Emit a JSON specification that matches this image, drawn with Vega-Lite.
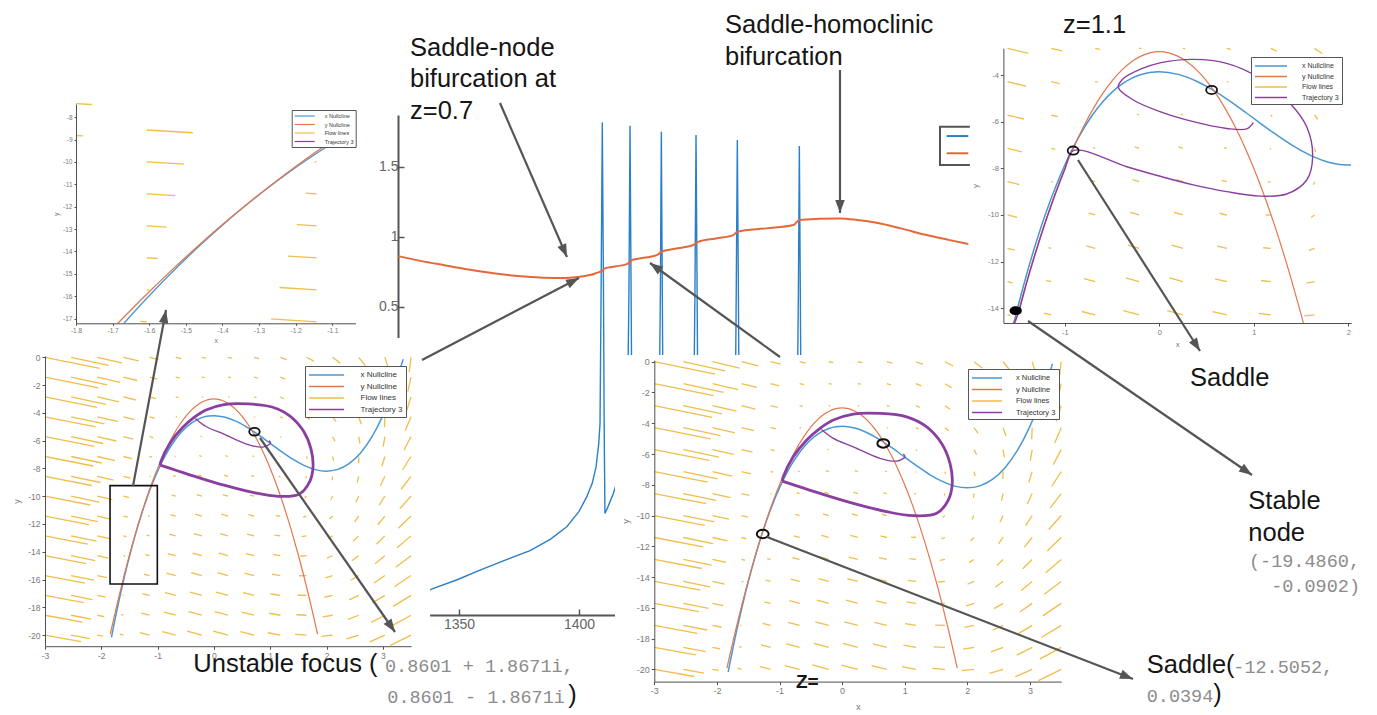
{
"$schema": "https://vega.github.io/schema/vega-lite/v6.json",
"width": 1377, "height": 715,
"autosize": {"type": "none"},
"padding": 0,
"background": "white",
"config": {
  "view": {"stroke": null},
  "axis": {"grid": false, "labelFont": "Liberation Sans", "titleFont": "Liberation Sans", "titleFontWeight": "normal", "labelColor": "#7a7a7a", "titleColor": "#7a7a7a", "domainColor": "#505050", "tickColor": "#505050", "labelOverlap": false, "labelFlush": false, "labelExpr": "'' + datum.value", "tickSize": 3, "labelPadding": 2},
  "legend": {"labelFont": "Liberation Sans", "labelColor": "#333333", "strokeColor": "#555555", "fillColor": "white", "orient": "none", "direction": "vertical", "symbolStrokeWidth": 1.5}
},
"datasets": {
"flow": [
{"x":-3,"y":-20,"x2":-2.362,"y2":-20.468},{"x":-3,"y":-18.571,"x2":-2.338,"y2":-19.063},{"x":-3,"y":-17.143,"x2":-2.314,"y2":-17.659},{"x":-3,"y":-15.714,"x2":-2.29,"y2":-16.254},{"x":-3,"y":-14.286,"x2":-2.267,"y2":-14.85},{"x":-3,"y":-12.857,"x2":-2.243,"y2":-13.445},{"x":-3,"y":-11.429,"x2":-2.219,"y2":-12.04},{"x":-3,"y":-10,"x2":-2.195,"y2":-10.635},{"x":-3,"y":-8.571,"x2":-2.171,"y2":-9.23},{"x":-3,"y":-7.143,"x2":-2.147,"y2":-7.826},{"x":-3,"y":-5.714,"x2":-2.123,"y2":-6.421},{"x":-3,"y":-4.286,"x2":-2.1,"y2":-5.016},{"x":-3,"y":-2.857,"x2":-2.076,"y2":-3.611},{"x":-3,"y":-1.429,"x2":-2.052,"y2":-2.207},{"x":-3,"y":0,"x2":-2.028,"y2":-0.802},
{"x":-2.536,"y":-20,"x2":-2.205,"y2":-20.253},{"x":-2.536,"y":-18.571,"x2":-2.181,"y2":-18.848},{"x":-2.536,"y":-17.143,"x2":-2.157,"y2":-17.444},{"x":-2.536,"y":-15.714,"x2":-2.133,"y2":-16.039},{"x":-2.536,"y":-14.286,"x2":-2.11,"y2":-14.635},{"x":-2.536,"y":-12.857,"x2":-2.086,"y2":-13.23},{"x":-2.536,"y":-11.429,"x2":-2.062,"y2":-11.825},{"x":-2.536,"y":-10,"x2":-2.038,"y2":-10.42},{"x":-2.536,"y":-8.571,"x2":-2.014,"y2":-9.015},{"x":-2.536,"y":-7.143,"x2":-1.99,"y2":-7.611},{"x":-2.536,"y":-5.714,"x2":-1.966,"y2":-6.206},{"x":-2.536,"y":-4.286,"x2":-1.943,"y2":-4.801},{"x":-2.536,"y":-2.857,"x2":-1.919,"y2":-3.396},{"x":-2.536,"y":-1.429,"x2":-1.895,"y2":-1.992},{"x":-2.536,"y":0,"x2":-1.871,"y2":-0.587},
{"x":-2.071,"y":-20,"x2":-1.972,"y2":-20.074},{"x":-2.071,"y":-18.571,"x2":-1.948,"y2":-18.669},{"x":-2.071,"y":-17.143,"x2":-1.924,"y2":-17.265},{"x":-2.071,"y":-15.714,"x2":-1.9,"y2":-15.86},{"x":-2.071,"y":-14.286,"x2":-1.877,"y2":-14.456},{"x":-2.071,"y":-12.857,"x2":-1.853,"y2":-13.051},{"x":-2.071,"y":-11.429,"x2":-1.829,"y2":-11.646},{"x":-2.071,"y":-10,"x2":-1.805,"y2":-10.241},{"x":-2.071,"y":-8.571,"x2":-1.781,"y2":-8.836},{"x":-2.071,"y":-7.143,"x2":-1.757,"y2":-7.432},{"x":-2.071,"y":-5.714,"x2":-1.733,"y2":-6.027},{"x":-2.071,"y":-4.286,"x2":-1.71,"y2":-4.622},{"x":-2.071,"y":-2.857,"x2":-1.686,"y2":-3.217},{"x":-2.071,"y":-1.429,"x2":-1.662,"y2":-1.813},{"x":-2.071,"y":0,"x2":-1.638,"y2":-0.408},
{"x":-1.607,"y":-20,"x2":-1.672,"y2":-19.932},{"x":-1.607,"y":-18.571,"x2":-1.648,"y2":-18.527},{"x":-1.607,"y":-17.143,"x2":-1.624,"y2":-17.123},{"x":-1.607,"y":-15.714,"x2":-1.6,"y2":-15.718},{"x":-1.607,"y":-14.286,"x2":-1.577,"y2":-14.314},{"x":-1.607,"y":-12.857,"x2":-1.553,"y2":-12.909},{"x":-1.607,"y":-11.429,"x2":-1.529,"y2":-11.504},{"x":-1.607,"y":-10,"x2":-1.505,"y2":-10.099},{"x":-1.607,"y":-8.571,"x2":-1.481,"y2":-8.694},{"x":-1.607,"y":-7.143,"x2":-1.457,"y2":-7.29},{"x":-1.607,"y":-5.714,"x2":-1.433,"y2":-5.885},{"x":-1.607,"y":-4.286,"x2":-1.41,"y2":-4.48},{"x":-1.607,"y":-2.857,"x2":-1.386,"y2":-3.075},{"x":-1.607,"y":-1.429,"x2":-1.362,"y2":-1.671},{"x":-1.607,"y":0,"x2":-1.338,"y2":-0.266},
{"x":-1.143,"y":-20,"x2":-1.316,"y2":-19.825},{"x":-1.143,"y":-18.571,"x2":-1.292,"y2":-18.42},{"x":-1.143,"y":-17.143,"x2":-1.268,"y2":-17.016},{"x":-1.143,"y":-15.714,"x2":-1.244,"y2":-15.611},{"x":-1.143,"y":-14.286,"x2":-1.221,"y2":-14.207},{"x":-1.143,"y":-12.857,"x2":-1.197,"y2":-12.802},{"x":-1.143,"y":-11.429,"x2":-1.173,"y2":-11.397},{"x":-1.143,"y":-10,"x2":-1.149,"y2":-9.992},{"x":-1.143,"y":-8.571,"x2":-1.125,"y2":-8.587},{"x":-1.143,"y":-7.143,"x2":-1.101,"y2":-7.183},{"x":-1.143,"y":-5.714,"x2":-1.077,"y2":-5.778},{"x":-1.143,"y":-4.286,"x2":-1.054,"y2":-4.373},{"x":-1.143,"y":-2.857,"x2":-1.03,"y2":-2.968},{"x":-1.143,"y":-1.429,"x2":-1.006,"y2":-1.564},{"x":-1.143,"y":0,"x2":-0.982,"y2":-0.159},
{"x":-0.679,"y":-20,"x2":-0.915,"y2":-19.755},{"x":-0.679,"y":-18.571,"x2":-0.891,"y2":-18.35},{"x":-0.679,"y":-17.143,"x2":-0.867,"y2":-16.946},{"x":-0.679,"y":-15.714,"x2":-0.843,"y2":-15.541},{"x":-0.679,"y":-14.286,"x2":-0.82,"y2":-14.137},{"x":-0.679,"y":-12.857,"x2":-0.796,"y2":-12.732},{"x":-0.679,"y":-11.429,"x2":-0.772,"y2":-11.327},{"x":-0.679,"y":-10,"x2":-0.748,"y2":-9.922},{"x":-0.679,"y":-8.571,"x2":-0.724,"y2":-8.517},{"x":-0.679,"y":-7.143,"x2":-0.7,"y2":-7.113},{"x":-0.679,"y":-5.714,"x2":-0.676,"y2":-5.708},{"x":-0.679,"y":-4.286,"x2":-0.653,"y2":-4.303},{"x":-0.679,"y":-2.857,"x2":-0.629,"y2":-2.898},{"x":-0.679,"y":-1.429,"x2":-0.605,"y2":-1.494},{"x":-0.679,"y":0,"x2":-0.581,"y2":-0.089},
{"x":-0.214,"y":-20,"x2":-0.475,"y2":-19.72},{"x":-0.214,"y":-18.571,"x2":-0.451,"y2":-18.315},{"x":-0.214,"y":-17.143,"x2":-0.427,"y2":-16.911},{"x":-0.214,"y":-15.714,"x2":-0.403,"y2":-15.506},{"x":-0.214,"y":-14.286,"x2":-0.38,"y2":-14.102},{"x":-0.214,"y":-12.857,"x2":-0.356,"y2":-12.697},{"x":-0.214,"y":-11.429,"x2":-0.332,"y2":-11.292},{"x":-0.214,"y":-10,"x2":-0.308,"y2":-9.887},{"x":-0.214,"y":-8.571,"x2":-0.284,"y2":-8.482},{"x":-0.214,"y":-7.143,"x2":-0.26,"y2":-7.078},{"x":-0.214,"y":-5.714,"x2":-0.236,"y2":-5.673},{"x":-0.214,"y":-4.286,"x2":-0.213,"y2":-4.268},{"x":-0.214,"y":-2.857,"x2":-0.189,"y2":-2.863},{"x":-0.214,"y":-1.429,"x2":-0.165,"y2":-1.459},{"x":-0.214,"y":0,"x2":-0.141,"y2":-0.054},
{"x":0.25,"y":-20,"x2":-0.011,"y2":-19.721},{"x":0.25,"y":-18.571,"x2":0.013,"y2":-18.316},{"x":0.25,"y":-17.143,"x2":0.037,"y2":-16.912},{"x":0.25,"y":-15.714,"x2":0.061,"y2":-15.507},{"x":0.25,"y":-14.286,"x2":0.084,"y2":-14.103},{"x":0.25,"y":-12.857,"x2":0.108,"y2":-12.698},{"x":0.25,"y":-11.429,"x2":0.132,"y2":-11.293},{"x":0.25,"y":-10,"x2":0.156,"y2":-9.888},{"x":0.25,"y":-8.571,"x2":0.18,"y2":-8.483},{"x":0.25,"y":-7.143,"x2":0.204,"y2":-7.079},{"x":0.25,"y":-5.714,"x2":0.228,"y2":-5.674},{"x":0.25,"y":-4.286,"x2":0.251,"y2":-4.269},{"x":0.25,"y":-2.857,"x2":0.275,"y2":-2.864},{"x":0.25,"y":-1.429,"x2":0.299,"y2":-1.46},{"x":0.25,"y":0,"x2":0.323,"y2":-0.055},
{"x":0.714,"y":-20,"x2":0.47,"y2":-19.759},{"x":0.714,"y":-18.571,"x2":0.494,"y2":-18.354},{"x":0.714,"y":-17.143,"x2":0.518,"y2":-16.95},{"x":0.714,"y":-15.714,"x2":0.542,"y2":-15.545},{"x":0.714,"y":-14.286,"x2":0.565,"y2":-14.141},{"x":0.714,"y":-12.857,"x2":0.589,"y2":-12.736},{"x":0.714,"y":-11.429,"x2":0.613,"y2":-11.331},{"x":0.714,"y":-10,"x2":0.637,"y2":-9.926},{"x":0.714,"y":-8.571,"x2":0.661,"y2":-8.521},{"x":0.714,"y":-7.143,"x2":0.685,"y2":-7.117},{"x":0.714,"y":-5.714,"x2":0.709,"y2":-5.712},{"x":0.714,"y":-4.286,"x2":0.732,"y2":-4.307},{"x":0.714,"y":-2.857,"x2":0.756,"y2":-2.902},{"x":0.714,"y":-1.429,"x2":0.78,"y2":-1.498},{"x":0.714,"y":0,"x2":0.804,"y2":-0.093},
{"x":1.179,"y":-20,"x2":0.957,"y2":-19.832},{"x":1.179,"y":-18.571,"x2":0.981,"y2":-18.427},{"x":1.179,"y":-17.143,"x2":1.005,"y2":-17.023},{"x":1.179,"y":-15.714,"x2":1.029,"y2":-15.618},{"x":1.179,"y":-14.286,"x2":1.052,"y2":-14.214},{"x":1.179,"y":-12.857,"x2":1.076,"y2":-12.809},{"x":1.179,"y":-11.429,"x2":1.1,"y2":-11.404},{"x":1.179,"y":-10,"x2":1.124,"y2":-9.999},{"x":1.179,"y":-8.571,"x2":1.148,"y2":-8.594},{"x":1.179,"y":-7.143,"x2":1.172,"y2":-7.19},{"x":1.179,"y":-5.714,"x2":1.196,"y2":-5.785},{"x":1.179,"y":-4.286,"x2":1.219,"y2":-4.38},{"x":1.179,"y":-2.857,"x2":1.243,"y2":-2.975},{"x":1.179,"y":-1.429,"x2":1.267,"y2":-1.571},{"x":1.179,"y":0,"x2":1.291,"y2":-0.166},
{"x":1.643,"y":-20,"x2":1.44,"y2":-19.942},{"x":1.643,"y":-18.571,"x2":1.464,"y2":-18.537},{"x":1.643,"y":-17.143,"x2":1.488,"y2":-17.133},{"x":1.643,"y":-15.714,"x2":1.512,"y2":-15.728},{"x":1.643,"y":-14.286,"x2":1.535,"y2":-14.324},{"x":1.643,"y":-12.857,"x2":1.559,"y2":-12.919},{"x":1.643,"y":-11.429,"x2":1.583,"y2":-11.514},{"x":1.643,"y":-10,"x2":1.607,"y2":-10.109},{"x":1.643,"y":-8.571,"x2":1.631,"y2":-8.704},{"x":1.643,"y":-7.143,"x2":1.655,"y2":-7.3},{"x":1.643,"y":-5.714,"x2":1.679,"y2":-5.895},{"x":1.643,"y":-4.286,"x2":1.702,"y2":-4.49},{"x":1.643,"y":-2.857,"x2":1.726,"y2":-3.085},{"x":1.643,"y":-1.429,"x2":1.75,"y2":-1.681},{"x":1.643,"y":0,"x2":1.774,"y2":-0.276},
{"x":2.107,"y":-20,"x2":1.909,"y2":-20.087},{"x":2.107,"y":-18.571,"x2":1.933,"y2":-18.682},{"x":2.107,"y":-17.143,"x2":1.957,"y2":-17.278},{"x":2.107,"y":-15.714,"x2":1.981,"y2":-15.873},{"x":2.107,"y":-14.286,"x2":2.004,"y2":-14.469},{"x":2.107,"y":-12.857,"x2":2.028,"y2":-13.064},{"x":2.107,"y":-11.429,"x2":2.052,"y2":-11.659},{"x":2.107,"y":-10,"x2":2.076,"y2":-10.254},{"x":2.107,"y":-8.571,"x2":2.1,"y2":-8.849},{"x":2.107,"y":-7.143,"x2":2.124,"y2":-7.445},{"x":2.107,"y":-5.714,"x2":2.148,"y2":-6.04},{"x":2.107,"y":-4.286,"x2":2.171,"y2":-4.635},{"x":2.107,"y":-2.857,"x2":2.195,"y2":-3.23},{"x":2.107,"y":-1.429,"x2":2.219,"y2":-1.826},{"x":2.107,"y":0,"x2":2.243,"y2":-0.421},
{"x":2.571,"y":-20,"x2":2.355,"y2":-20.268},{"x":2.571,"y":-18.571,"x2":2.379,"y2":-18.863},{"x":2.571,"y":-17.143,"x2":2.403,"y2":-17.459},{"x":2.571,"y":-15.714,"x2":2.427,"y2":-16.054},{"x":2.571,"y":-14.286,"x2":2.45,"y2":-14.65},{"x":2.571,"y":-12.857,"x2":2.474,"y2":-13.245},{"x":2.571,"y":-11.429,"x2":2.498,"y2":-11.84},{"x":2.571,"y":-10,"x2":2.522,"y2":-10.435},{"x":2.571,"y":-8.571,"x2":2.546,"y2":-9.03},{"x":2.571,"y":-7.143,"x2":2.57,"y2":-7.626},{"x":2.571,"y":-5.714,"x2":2.594,"y2":-6.221},{"x":2.571,"y":-4.286,"x2":2.617,"y2":-4.816},{"x":2.571,"y":-2.857,"x2":2.641,"y2":-3.411},{"x":2.571,"y":-1.429,"x2":2.665,"y2":-2.007},{"x":2.571,"y":0,"x2":2.689,"y2":-0.602},
{"x":3.036,"y":-20,"x2":2.767,"y2":-20.486},{"x":3.036,"y":-18.571,"x2":2.791,"y2":-19.081},{"x":3.036,"y":-17.143,"x2":2.815,"y2":-17.677},{"x":3.036,"y":-15.714,"x2":2.839,"y2":-16.272},{"x":3.036,"y":-14.286,"x2":2.862,"y2":-14.868},{"x":3.036,"y":-12.857,"x2":2.886,"y2":-13.463},{"x":3.036,"y":-11.429,"x2":2.91,"y2":-12.058},{"x":3.036,"y":-10,"x2":2.934,"y2":-10.653},{"x":3.036,"y":-8.571,"x2":2.958,"y2":-9.248},{"x":3.036,"y":-7.143,"x2":2.982,"y2":-7.844},{"x":3.036,"y":-5.714,"x2":3.006,"y2":-6.439},{"x":3.036,"y":-4.286,"x2":3.029,"y2":-5.034},{"x":3.036,"y":-2.857,"x2":3.053,"y2":-3.629},{"x":3.036,"y":-1.429,"x2":3.077,"y2":-2.225},{"x":3.036,"y":0,"x2":3.101,"y2":-0.82},
{"x":3.5,"y":-20,"x2":3.134,"y2":-20.739},{"x":3.5,"y":-18.571,"x2":3.158,"y2":-19.334},{"x":3.5,"y":-17.143,"x2":3.182,"y2":-17.93},{"x":3.5,"y":-15.714,"x2":3.206,"y2":-16.525},{"x":3.5,"y":-14.286,"x2":3.229,"y2":-15.121},{"x":3.5,"y":-12.857,"x2":3.253,"y2":-13.716},{"x":3.5,"y":-11.429,"x2":3.277,"y2":-12.311},{"x":3.5,"y":-10,"x2":3.301,"y2":-10.906},{"x":3.5,"y":-8.571,"x2":3.325,"y2":-9.501},{"x":3.5,"y":-7.143,"x2":3.349,"y2":-8.097},{"x":3.5,"y":-5.714,"x2":3.373,"y2":-6.692},{"x":3.5,"y":-4.286,"x2":3.396,"y2":-5.287},{"x":3.5,"y":-2.857,"x2":3.42,"y2":-3.882},{"x":3.5,"y":-1.429,"x2":3.444,"y2":-2.478},{"x":3.5,"y":0,"x2":3.468,"y2":-1.073}
],
"nullx07": [
{"x":-1.82,"y":-20.17},{"x":-1.75,"y":-18.747},{"x":-1.7,"y":-17.78},{"x":-1.669,"y":-17.21},{"x":-1.65,"y":-16.86},{"x":-1.6,"y":-15.98},{"x":-1.55,"y":-15.13},{"x":-1.5,"y":-14.325},{"x":-1.45,"y":-13.556},{"x":-1.4,"y":-12.824},{"x":-1.35,"y":-12.128},{"x":-1.3,"y":-11.467},{"x":-1.25,"y":-10.841},{"x":-1.2,"y":-10.248},{"x":-1.15,"y":-9.688},{"x":-1.1,"y":-9.161},{"x":-1.05,"y":-8.665},{"x":-1.037,"y":-8.541},{"x":-1.0,"y":-8.2},{"x":-0.9,"y":-7.359},{"x":-0.8,"y":-6.632},{"x":-0.7,"y":-6.013},{"x":-0.6,"y":-5.496},{"x":-0.5,"y":-5.075},{"x":-0.4,"y":-4.744},{"x":-0.3,"y":-4.497},{"x":-0.2,"y":-4.328},{"x":-0.1,"y":-4.231},{"x":0,"y":-4.2},{"x":0.2,"y":-4.312},{"x":0.4,"y":-4.616},{"x":0.6,"y":-5.064},{"x":0.8,"y":-5.608},{"x":1.0,"y":-6.2},{"x":1.2,"y":-6.792},{"x":1.4,"y":-7.336},{"x":1.6,"y":-7.784},{"x":1.8,"y":-8.088},{"x":2.0,"y":-8.2},{"x":2.2,"y":-8.072},{"x":2.4,"y":-7.656},{"x":2.6,"y":-6.904},{"x":2.8,"y":-5.768},{"x":3.0,"y":-4.2},{"x":3.1,"y":-3.239},{"x":3.2,"y":-2.152},{"x":3.3,"y":-0.933},{"x":3.36,"y":-0.136}
],
"nully07": [
{"x":-1.84,"y":-19.928},{"x":-1.8,"y":-19.2},{"x":-1.75,"y":-18.313},{"x":-1.7,"y":-17.45},{"x":-1.686,"y":-17.213},{"x":-1.65,"y":-16.613},{"x":-1.6,"y":-15.8},{"x":-1.55,"y":-15.013},{"x":-1.525,"y":-14.628},{"x":-1.5,"y":-14.25},{"x":-1.45,"y":-13.513},{"x":-1.4,"y":-12.8},{"x":-1.35,"y":-12.113},{"x":-1.3,"y":-11.45},{"x":-1.25,"y":-10.813},{"x":-1.2,"y":-10.2},{"x":-1.15,"y":-9.613},{"x":-1.1,"y":-9.05},{"x":-1.05,"y":-8.513},{"x":-1.037,"y":-8.377},{"x":-1.0,"y":-8.0},{"x":-0.9,"y":-7.05},{"x":-0.8,"y":-6.2},{"x":-0.7,"y":-5.45},{"x":-0.6,"y":-4.8},{"x":-0.5,"y":-4.25},{"x":-0.4,"y":-3.8},{"x":-0.3,"y":-3.45},{"x":-0.2,"y":-3.2},{"x":-0.1,"y":-3.05},{"x":0,"y":-3.0},{"x":0.1,"y":-3.05},{"x":0.2,"y":-3.2},{"x":0.3,"y":-3.45},{"x":0.4,"y":-3.8},{"x":0.5,"y":-4.25},{"x":0.6,"y":-4.8},{"x":0.7,"y":-5.45},{"x":0.8,"y":-6.2},{"x":0.9,"y":-7.05},{"x":1.0,"y":-8.0},{"x":1.1,"y":-9.05},{"x":1.2,"y":-10.2},{"x":1.3,"y":-11.45},{"x":1.4,"y":-12.8},{"x":1.5,"y":-14.25},{"x":1.525,"y":-14.628},{"x":1.6,"y":-15.8},{"x":1.7,"y":-17.45},{"x":1.8,"y":-19.2},{"x":1.84,"y":-19.928}
],
"nullx11": [
{"x":-1.54,"y":-14.63},{"x":-1.5,"y":-13.985},{"x":-1.4,"y":-12.484},{"x":-1.3,"y":-11.127},{"x":-1.2,"y":-9.908},{"x":-1.1,"y":-8.821},{"x":-1.0,"y":-7.86},{"x":-0.9,"y":-7.019},{"x":-0.8,"y":-6.292},{"x":-0.7,"y":-5.673},{"x":-0.6,"y":-5.156},{"x":-0.5,"y":-4.735},{"x":-0.4,"y":-4.404},{"x":-0.3,"y":-4.157},{"x":-0.2,"y":-3.988},{"x":-0.1,"y":-3.891},{"x":0,"y":-3.86},{"x":0.2,"y":-3.972},{"x":0.4,"y":-4.276},{"x":0.6,"y":-4.724},{"x":0.8,"y":-5.268},{"x":1.0,"y":-5.86},{"x":1.2,"y":-6.452},{"x":1.4,"y":-6.996},{"x":1.6,"y":-7.444},{"x":1.8,"y":-7.748},{"x":2.0,"y":-7.86},{"x":2.03,"y":-7.858}
],
"traj07": [
{"part":"cycle","o":1,"x":-0.955,"y":-7.76},{"part":"cycle","o":2,"x":-0.65,"y":-8.17},{"part":"cycle","o":3,"x":-0.353,"y":-8.56},{"part":"cycle","o":4,"x":0.179,"y":-9.21},{"part":"cycle","o":5,"x":0.712,"y":-9.75},{"part":"cycle","o":6,"x":1.137,"y":-10.01},{"part":"cycle","o":7,"x":1.511,"y":-9.86},{"part":"cycle","o":8,"x":1.697,"y":-8.99},{"part":"cycle","o":9,"x":1.76,"y":-7.91},{"part":"cycle","o":10,"x":1.724,"y":-6.61},{"part":"cycle","o":11,"x":1.59,"y":-5.31},{"part":"cycle","o":12,"x":1.351,"y":-4.23},{"part":"cycle","o":13,"x":1.032,"y":-3.58},{"part":"cycle","o":14,"x":0.605,"y":-3.36},{"part":"cycle","o":15,"x":0.179,"y":-3.4},{"part":"cycle","o":16,"x":-0.14,"y":-3.79},{"part":"cycle","o":17,"x":-0.353,"y":-4.33},{"part":"cycle","o":18,"x":-0.565,"y":-5.09},{"part":"cycle","o":19,"x":-0.78,"y":-6.18},{"part":"cycle","o":20,"x":-0.94,"y":-7.48},{"part":"cycle","o":21,"x":-0.955,"y":-7.76},
{"part":"spiral","o":1,"x":-0.33,"y":-4.4},{"part":"spiral","o":2,"x":-0.14,"y":-4.98},{"part":"spiral","o":3,"x":0.179,"y":-5.53},{"part":"spiral","o":4,"x":0.605,"y":-6.28},{"part":"spiral","o":5,"x":0.872,"y":-6.46},{"part":"spiral","o":6,"x":1.005,"y":-6.18},{"part":"spiral","o":7,"x":0.978,"y":-6.0}
],
"traj11": [
{"o":1,"x":0.995,"y":-6.04},{"o":2,"x":0.925,"y":-6.31},{"o":3,"x":0.713,"y":-6.29},{"o":4,"x":0.36,"y":-6.0},{"o":5,"x":0.007,"y":-5.57},{"o":6,"x":-0.275,"y":-5.07},{"o":7,"x":-0.434,"y":-4.53},{"o":8,"x":-0.38,"y":-4.15},{"o":9,"x":-0.2,"y":-3.75},{"o":10,"x":0.007,"y":-3.48},{"o":11,"x":0.36,"y":-3.33},{"o":12,"x":0.713,"y":-3.5},{"o":13,"x":1.066,"y":-4.14},{"o":14,"x":1.383,"y":-5.21},{"o":15,"x":1.56,"y":-6.22},{"o":16,"x":1.623,"y":-7.5},{"o":17,"x":1.56,"y":-8.5},{"o":18,"x":1.348,"y":-9.1},{"o":19,"x":1.066,"y":-9.19},{"o":20,"x":0.713,"y":-9.0},{"o":21,"x":0.36,"y":-8.71},{"o":22,"x":0,"y":-8.33},{"o":23,"x":-0.345,"y":-7.93},{"o":24,"x":-0.91,"y":-7.24},{"o":25,"x":-1.0,"y":-8.05},{"o":26,"x":-1.1,"y":-9.1},{"o":27,"x":-1.2,"y":-10.25},{"o":28,"x":-1.3,"y":-11.5},{"o":29,"x":-1.4,"y":-12.85},{"o":30,"x":-1.5,"y":-14.3},{"o":31,"x":-1.54,"y":-14.63}
],
"ts": [
{"s":"x","t":1324.6,"v":-1.62},{"s":"x","t":1332,"v":-1.57},{"s":"x","t":1339.3,"v":-1.51},{"s":"x","t":1349,"v":-1.45},{"s":"x","t":1358.75,"v":-1.38},{"s":"x","t":1369,"v":-1.31},{"s":"x","t":1379.6,"v":-1.24},{"s":"x","t":1388,"v":-1.16},{"s":"x","t":1394.9,"v":-1.07},{"s":"x","t":1400,"v":-0.96},{"s":"x","t":1403.2,"v":-0.857},{"s":"x","t":1405.5,"v":-0.76},{"s":"x","t":1407.1,"v":-0.643},{"s":"x","t":1408.2,"v":-0.48},{"s":"x","t":1408.75,"v":-0.333},{"s":"x","t":1409.2,"v":0.6},{"s":"x","t":1409.7,"v":1.815},{"s":"x","t":1410.2,"v":0.6},{"s":"x","t":1410.5,"v":-0.4},{"s":"x","t":1410.8,"v":-0.976},{"s":"x","t":1412,"v":-0.93},{"s":"x","t":1414.3,"v":-0.833},{"s":"x","t":1417,"v":-0.68},{"s":"x","t":1419,"v":-0.5},{"s":"x","t":1420.2,"v":-0.25},{"s":"x","t":1420.8,"v":0.6},{"s":"x","t":1421.25,"v":1.793},{"s":"x","t":1421.7,"v":0.6},{"s":"x","t":1422.1,"v":-0.5},{"s":"x","t":1422.5,"v":-1.0},{"s":"x","t":1425,"v":-0.9},{"s":"x","t":1429,"v":-0.75},{"s":"x","t":1432,"v":-0.55},{"s":"x","t":1433.4,"v":-0.25},{"s":"x","t":1433.9,"v":0.6},{"s":"x","t":1434.3,"v":1.75},{"s":"x","t":1434.7,"v":0.6},{"s":"x","t":1435.1,"v":-0.5},{"s":"x","t":1435.5,"v":-1.0},{"s":"x","t":1439,"v":-0.9},{"s":"x","t":1444,"v":-0.72},{"s":"x","t":1447.8,"v":-0.25},{"s":"x","t":1448.3,"v":0.6},{"s":"x","t":1448.75,"v":1.726},{"s":"x","t":1449.2,"v":0.6},{"s":"x","t":1449.6,"v":-0.5},{"s":"x","t":1450,"v":-1.0},{"s":"x","t":1455,"v":-0.9},{"s":"x","t":1461,"v":-0.72},{"s":"x","t":1465.1,"v":-0.25},{"s":"x","t":1465.5,"v":0.6},{"s":"x","t":1465.96,"v":1.691},{"s":"x","t":1466.4,"v":0.6},{"s":"x","t":1466.8,"v":-0.5},{"s":"x","t":1467.2,"v":-1.0},{"s":"x","t":1473,"v":-0.92},{"s":"x","t":1480,"v":-0.8},{"s":"x","t":1487,"v":-0.6},{"s":"x","t":1490.9,"v":-0.25},{"s":"x","t":1491.4,"v":0.6},{"s":"x","t":1491.8,"v":1.648},{"s":"x","t":1492.2,"v":0.6},{"s":"x","t":1492.6,"v":-0.5},{"s":"x","t":1493,"v":-1.0},{"s":"x","t":1500,"v":-1.25},{"s":"x","t":1515,"v":-1.45},{"s":"x","t":1535,"v":-1.55},{"s":"x","t":1570,"v":-1.62},
{"s":"z","t":1324.6,"v":0.862},{"s":"z","t":1334,"v":0.828},{"s":"z","t":1343.5,"v":0.798},{"s":"z","t":1354,"v":0.766},{"s":"z","t":1364.3,"v":0.739},{"s":"z","t":1372,"v":0.724},{"s":"z","t":1380,"v":0.713},{"s":"z","t":1386,"v":0.707},{"s":"z","t":1392.1,"v":0.705},{"s":"z","t":1396,"v":0.707},{"s":"z","t":1400.4,"v":0.714},{"s":"z","t":1404,"v":0.725},{"s":"z","t":1407,"v":0.74},{"s":"z","t":1409.7,"v":0.758},{"s":"z","t":1410.8,"v":0.774},{"s":"z","t":1415,"v":0.788},{"s":"z","t":1419.9,"v":0.805},{"s":"z","t":1421.25,"v":0.82},{"s":"z","t":1422,"v":0.834},{"s":"z","t":1427,"v":0.85},{"s":"z","t":1432.4,"v":0.869},{"s":"z","t":1434.3,"v":0.893},{"s":"z","t":1440,"v":0.915},{"s":"z","t":1447.6,"v":0.941},{"s":"z","t":1448.75,"v":0.955},{"s":"z","t":1449.7,"v":0.964},{"s":"z","t":1457,"v":0.988},{"s":"z","t":1464.3,"v":1.012},{"s":"z","t":1466,"v":1.036},{"s":"z","t":1478,"v":1.06},{"s":"z","t":1489.3,"v":1.084},{"s":"z","t":1491.8,"v":1.119},{"s":"z","t":1500,"v":1.128},{"s":"z","t":1508.75,"v":1.131},{"s":"z","t":1516,"v":1.12},{"s":"z","t":1524,"v":1.1},{"s":"z","t":1534,"v":1.06},{"s":"z","t":1544.9,"v":1.012},{"s":"z","t":1554,"v":0.978},{"s":"z","t":1562.2,"v":0.948}
],
"arrows": [
{"x":36.311,"y":85.594,"x2":41.176,"y2":64.056,"ang":156.5},
{"x":30.646,"y":49.65,"x2":42.048,"y2":61.119,"ang":62.4},
{"x":56.645,"y":50.07,"x2":47.204,"y2":63.217,"ang":305.9},
{"x":61.002,"y":90.21,"x2":61.002,"y2":70.21,"ang":180},
{"x":9.659,"y":32.028,"x2":12.055,"y2":56.643,"ang":10.6},
{"x":18.882,"y":38.741,"x2":28.685,"y2":11.608,"ang":145.2},
{"x":55.701,"y":24.895,"x2":82.28,"y2":5.035,"ang":111.2},
{"x":78.286,"y":77.622,"x2":87.146,"y2":50.909,"ang":147.4},
{"x":74.655,"y":55.105,"x2":90.922,"y2":33.566,"ang":124.5}
],
"notes": [
{"kind":"sans","x":29.775,"y":92.168,"text":"Saddle-node\nbifurcation at\nz=0.7"},
{"kind":"sans","x":52.651,"y":95.343,"text":"Saddle-homoclinic\nbifurcation"},
{"kind":"sans","x":77.197,"y":95.343,"text":"z=1.1"},
{"kind":"sans","x":86.42,"y":46.014,"text":"Saddle"},
{"kind":"sans","x":90.654,"y":28.769,"text":"Stable\nnode"},
{"kind":"monor","x":98.765,"y":20.741,"text":"(-19.4860,\n-0.0902)"},
{"kind":"sans","x":83.275,"y":5.916,"text":"Saddle("},
{"kind":"mono","x":89.564,"y":5.916,"text":"-12.5052,"},
{"kind":"mono","x":83.275,"y":1.86,"text":"0.0394"},
{"kind":"sans","x":88.112,"y":1.86,"text":")"},
{"kind":"sans","x":14.038,"y":6.056,"text":"Unstable focus ("},
{"kind":"mono","x":27.959,"y":6.056,"text":"0.8601 + 1.8671i,"},
{"kind":"mono","x":28.126,"y":1.636,"text":"0.8601 - 1.8671i"},
{"kind":"sans","x":41.271,"y":1.636,"text":")"},
{"kind":"z","x":57.807,"y":3.734,"text":"Z="}
]
},
"layer": [
{
 "encoding": {
  "x": {"field":"t","type":"quantitative","scale":{"domain":[1324.58,1570.4],"range":[398,988],"zero":false,"nice":false},"axis":{"orient":"bottom","offset":-100,"values":[1350,1400,1450,1500,1550],"title":null,"labelFontSize":14,"labelColor":"#666666","domainWidth":2,"domainColor":"#555555","tickColor":"#555555","tickWidth":1.5,"tickSize":-6,"labelPadding":8,"zindex":0}},
  "y": {"field":"v","type":"quantitative","scale":{"domain":[-1.7,1.87],"range":[615,114.9],"zero":false,"nice":false},"axis":{"orient":"left","offset":-398,"values":[-1.5,-1,-0.5,0,0.5,1,1.5],"title":null,"labelFontSize":14,"labelColor":"#666666","domainWidth":2,"domainColor":"#555555","tickColor":"#555555","tickWidth":1.5,"tickSize":-6,"labelPadding":6,"zindex":0}}
 },
 "layer": [
  {"data":{"name":"ts"},"transform":[{"filter":"datum.s == 'x'"}],"mark":{"type":"line","color":"#2A7FC9","strokeWidth":1.4}},
  {"data":{"name":"ts"},"transform":[{"filter":"datum.s == 'z'"}],"mark":{"type":"line","color":"#E3693A","strokeWidth":2,"interpolate":"monotone"}},
  {"data":{"values":[{"t":1550.4,"t2":1580,"v":1.786,"v2":1.512}]},"mark":{"type":"rect","fill":"white","stroke":"#555555","strokeWidth":2},"encoding":{"x2":{"field":"t2"},"y2":{"field":"v2"}}},
  {"data":{"values":[{"t":1553.2,"t2":1562.2,"v":1.719,"k":"x"},{"t":1553.2,"t2":1562.2,"v":1.596,"k":"z"}]},"mark":{"type":"rule","strokeWidth":2},"encoding":{"x2":{"field":"t2"},"color":{"field":"k","type":"nominal","scale":{"domain":["x","z"],"range":["#2A7FC9","#E3693A"]},"legend":null}}}
 ]
},
{
 "encoding": {
  "x": {"field":"x","type":"quantitative","scale":{"domain":[-1.8,-1.037],"range":[76,355.4],"zero":false,"nice":false},"axis":{"orient":"bottom","offset":-391.7,"values":[-1.8,-1.7,-1.6,-1.5,-1.4,-1.3,-1.2,-1.1],"title":"x","labelFontSize":6.5,"titleFontSize":7,"titlePadding":3,"tickSize":2,"zindex":1}},
  "y": {"field":"y","type":"quantitative","scale":{"domain":[-17.21,-7.41],"range":[323.3,104],"zero":false,"nice":false},"axis":{"orient":"left","offset":-76,"values":[-8,-9,-10,-11,-12,-13,-14,-15,-16,-17],"title":"y","labelFontSize":6.5,"titleFontSize":7,"titlePadding":3,"tickSize":2,"zindex":1}}
 },
 "layer": [
  {"data":{"name":"flow"},"transform":[{"filter":"datum.x >= -1.8 && datum.x <= -1.037 && datum.y >= -17.21 && datum.y <= -7.41"}],"mark":{"type":"rule","strokeWidth":1.3},"encoding":{"x2":{"field":"x2"},"y2":{"field":"y2"},"color":{"datum":"Flow lines","type":"nominal","scale":{"domain":["x Nullcline","y Nullcline","Flow lines","Trajectory 3"],"range":["#4A97D4","#E3774C","#F0BE4A","#8A3FA0"]},"legend":{"title":null,"legendX":291.7,"legendY":110,"symbolType":"M-3.33,0L3.33,0","symbolSize":36,"symbolOffset":7,"labelOffset":16,"labelFontSize":5.5,"padding":2,"rowPadding":0.5,"symbolStrokeWidth":1.2}}}},
  {"data":{"values":[{"x":-1.8,"y":-8.819,"x2":-1.781,"y2":-8.836},{"x":-1.8,"y":-7.392,"x2":-1.757,"y2":-7.432}]},"mark":{"type":"rule","strokeWidth":1.3},"encoding":{"x2":{"field":"x2"},"y2":{"field":"y2"},"color":{"datum":"Flow lines","type":"nominal"}}},
  {"data":{"name":"nullx07"},"transform":[{"filter":"datum.x >= -1.67 && datum.x <= -1.036"}],"mark":{"type":"line","strokeWidth":1.3,"interpolate":"monotone"},"encoding":{"color":{"datum":"x Nullcline","type":"nominal"}}},
  {"data":{"name":"nully07"},"transform":[{"filter":"datum.x >= -1.687 && datum.x <= -1.036"}],"mark":{"type":"line","strokeWidth":1.3,"interpolate":"monotone"},"encoding":{"color":{"datum":"y Nullcline","type":"nominal"}}}
 ]
},
{
 "encoding": {
  "x": {"field":"x","type":"quantitative","scale":{"domain":[-3,3.5],"range":[45,411],"zero":false,"nice":false},"axis":{"orient":"bottom","offset":-68.8,"values":[-3,-2,-1,0,1,2,3],"title":null,"labelFontSize":8.5,"zindex":1}},
  "y": {"field":"y","type":"quantitative","scale":{"domain":[-20.8,0.1],"range":[646.2,355.9],"zero":false,"nice":false},"axis":{"orient":"left","offset":-45,"values":[0,-2,-4,-6,-8,-10,-12,-14,-16,-18,-20],"title":"y","labelFontSize":8.5,"titleFontSize":9,"titlePadding":6,"zindex":1}}
 },
 "layer": [
  {"data":{"values":[{"x":-3.8,"x2":3.84,"y":1.39,"y2":-24}]},"mark":{"type":"rect","color":"white","strokeWidth":0},"encoding":{"x2":{"field":"x2"},"y2":{"field":"y2"}}},
  {"data":{"name":"flow"},"mark":{"type":"rule","strokeWidth":1.3},"encoding":{"x2":{"field":"x2"},"y2":{"field":"y2"},"color":{"datum":"Flow lines","type":"nominal","scale":{"domain":["x Nullcline","y Nullcline","Flow lines","Trajectory 3"],"range":["#4A97D4","#E3774C","#F0BE4A","#8A3FA0"]},"legend":{"title":null,"legendX":305,"legendY":366,"symbolType":"M-3.5,0L3.5,0","symbolSize":100,"symbolOffset":12.5,"labelOffset":28,"labelFontSize":8,"padding":3,"rowPadding":1.5}}}},
  {"data":{"name":"nullx07"},"mark":{"type":"line","strokeWidth":1.5,"interpolate":"monotone"},"encoding":{"color":{"datum":"x Nullcline","type":"nominal"}}},
  {"data":{"name":"nully07"},"mark":{"type":"line","strokeWidth":1.2,"interpolate":"monotone"},"encoding":{"color":{"datum":"y Nullcline","type":"nominal"}}},
  {"data":{"name":"traj07"},"transform":[{"filter":"datum.part == 'cycle'"}],"mark":{"type":"line","strokeWidth":2.8,"interpolate":"catmull-rom"},"encoding":{"order":{"field":"o","type":"quantitative"},"color":{"datum":"Trajectory 3","type":"nominal"}}},
  {"data":{"name":"traj07"},"transform":[{"filter":"datum.part == 'spiral'"}],"mark":{"type":"line","strokeWidth":1.3,"interpolate":"catmull-rom"},"encoding":{"order":{"field":"o","type":"quantitative"},"color":{"datum":"Trajectory 3","type":"nominal"}}},
  {"data":{"values":[{"x":0.72,"y":-5.36}]},"mark":{"type":"point","shape":"M-1,0A1,0.72,0,1,1,1,0A1,0.72,0,1,1,-1,0Z","size":110,"filled":false,"stroke":"#111111","strokeWidth":1.8,"opacity":1}},
  {"data":{"values":[{"x":-1.845,"x2":-1.005,"y":-9.24,"y2":-16.32}]},"mark":{"type":"rect","fill":"transparent","stroke":"#111111","strokeWidth":1.6},"encoding":{"x2":{"field":"x2"},"y2":{"field":"y2"}}}
 ]
},
{
 "encoding": {
  "x": {"field":"x","type":"quantitative","scale":{"domain":[-3,3.5],"range":[654.3,1061.2],"zero":false,"nice":false},"axis":{"orient":"bottom","offset":-33.4,"values":[-3,-2,-1,0,1,2,3],"title":"x","labelFontSize":9,"titleFontSize":9.5,"titlePadding":6,"zindex":1}},
  "y": {"field":"y","type":"quantitative","scale":{"domain":[-20.8,0.1],"range":[681.6,360.2],"zero":false,"nice":false},"axis":{"orient":"left","offset":-654.3,"values":[0,-2,-4,-6,-8,-10,-12,-14,-16,-18,-20],"title":"y","labelFontSize":9,"titleFontSize":9.5,"titlePadding":6,"zindex":1}}
 },
 "layer": [
  {"data":{"values":[{"x":-3.628,"x2":3.72,"y":0.436,"y2":-22.97}]},"mark":{"type":"rect","color":"white","strokeWidth":0},"encoding":{"x2":{"field":"x2"},"y2":{"field":"y2"}}},
  {"data":{"name":"flow"},"mark":{"type":"rule","strokeWidth":1.3},"encoding":{"x2":{"field":"x2"},"y2":{"field":"y2"},"color":{"datum":"Flow lines","type":"nominal","scale":{"domain":["x Nullcline","y Nullcline","Flow lines","Trajectory 3"],"range":["#4A97D4","#E3774C","#F0BE4A","#8A3FA0"]},"legend":{"title":null,"legendX":968,"legendY":369,"symbolType":"M-3,0L3,0","symbolSize":100,"symbolOffset":10,"labelOffset":23,"labelFontSize":7.5,"padding":3,"rowPadding":1.5}}}},
  {"data":{"name":"nullx07"},"mark":{"type":"line","strokeWidth":1.5,"interpolate":"monotone"},"encoding":{"color":{"datum":"x Nullcline","type":"nominal"}}},
  {"data":{"name":"nully07"},"mark":{"type":"line","strokeWidth":1.2,"interpolate":"monotone"},"encoding":{"color":{"datum":"y Nullcline","type":"nominal"}}},
  {"data":{"name":"traj07"},"transform":[{"filter":"datum.part == 'cycle'"}],"mark":{"type":"line","strokeWidth":2.8,"interpolate":"catmull-rom"},"encoding":{"order":{"field":"o","type":"quantitative"},"color":{"datum":"Trajectory 3","type":"nominal"}}},
  {"data":{"name":"traj07"},"transform":[{"filter":"datum.part == 'spiral'"}],"mark":{"type":"line","strokeWidth":1.3,"interpolate":"catmull-rom"},"encoding":{"order":{"field":"o","type":"quantitative"},"color":{"datum":"Trajectory 3","type":"nominal"}}},
  {"data":{"values":[{"x":0.658,"y":-5.31},{"x":-1.268,"y":-11.2}]},"mark":{"type":"point","shape":"M-1,0A1,0.72,0,1,1,1,0A1,0.72,0,1,1,-1,0Z","size":140,"filled":false,"stroke":"#111111","strokeWidth":2,"opacity":1}}
 ]
},
{
 "encoding": {
  "x": {"field":"x","type":"quantitative","scale":{"domain":[-1.65,2.03],"range":[1003.4,1351.1],"zero":false,"nice":false},"axis":{"orient":"bottom","offset":-392,"values":[-1,0,1,2],"title":"x","labelFontSize":7.5,"titleFontSize":8,"titlePadding":5,"zindex":1}},
  "y": {"field":"y","type":"quantitative","scale":{"domain":[-14.63,-2.85],"range":[323,48.2],"zero":false,"nice":false},"axis":{"orient":"left","offset":-1003.4,"values":[-4,-6,-8,-10,-12,-14],"title":"y","labelFontSize":7.5,"titleFontSize":8,"titlePadding":8,"zindex":1}}
 },
 "layer": [
  {"data":{"values":[{"x":-2.005,"x2":2.302,"y":-0.785,"y2":-16.0}]},"mark":{"type":"rect","color":"white","strokeWidth":0},"encoding":{"x2":{"field":"x2"},"y2":{"field":"y2"}}},
  {"data":{"name":"flow"},"transform":[{"filter":"datum.x >= -1.65 && datum.x <= 2.03 && datum.y >= -14.63 && datum.y <= -2.85"}],"mark":{"type":"rule","strokeWidth":1.3},"encoding":{"x2":{"field":"x2"},"y2":{"field":"y2"},"color":{"datum":"Flow lines","type":"nominal","scale":{"domain":["x Nullcline","y Nullcline","Flow lines","Trajectory 3"],"range":["#4A97D4","#E3774C","#F0BE4A","#8A3FA0"]},"legend":{"title":null,"legendX":1251,"legendY":57,"symbolType":"M-3.2,0L3.2,0","symbolSize":100,"symbolOffset":11,"labelOffset":25,"labelFontSize":7,"padding":3,"rowPadding":1.5}}}},
  {"data":{"name":"nullx11"},"mark":{"type":"line","strokeWidth":1.5,"interpolate":"monotone"},"encoding":{"color":{"datum":"x Nullcline","type":"nominal"}}},
  {"data":{"name":"nully07"},"transform":[{"filter":"abs(datum.x) <= 1.53"}],"mark":{"type":"line","strokeWidth":1.2,"interpolate":"monotone"},"encoding":{"color":{"datum":"y Nullcline","type":"nominal"}}},
  {"data":{"name":"traj11"},"mark":{"type":"line","strokeWidth":1.4,"interpolate":"catmull-rom"},"encoding":{"order":{"field":"o","type":"quantitative"},"color":{"datum":"Trajectory 3","type":"nominal"}}},
  {"data":{"values":[{"x":0.554,"y":-4.64},{"x":-0.912,"y":-7.24}]},"mark":{"type":"point","shape":"M-1,0A1,0.75,0,1,1,1,0A1,0.75,0,1,1,-1,0Z","size":120,"filled":false,"stroke":"#111111","strokeWidth":1.8,"opacity":1}},
  {"data":{"values":[{"x":-1.52,"y":-14.1}]},"mark":{"type":"point","shape":"M-1,0A1,0.72,0,1,1,1,0A1,0.72,0,1,1,-1,0Z","size":150,"filled":true,"color":"#000000","opacity":1}}
 ]
},
{
 "encoding": {
  "x": {"field":"x","type":"quantitative","scale":{"domain":[0,100],"range":[0,1377],"zero":false,"nice":false},"axis":null},
  "y": {"field":"y","type":"quantitative","scale":{"domain":[0,100],"range":[715,0],"zero":false,"nice":false},"axis":null}
 },
 "layer": [
  {"data":{"name":"arrows"},"mark":{"type":"rule","color":"#555555","strokeWidth":2.2},"encoding":{"x2":{"field":"x2"},"y2":{"field":"y2"}}},
  {"data":{"name":"arrows"},"mark":{"type":"point","shape":"M0,0L-0.55,1.5L0.55,1.5Z","size":300,"filled":true,"color":"#555555","opacity":1},"encoding":{"x":{"field":"x2","type":"quantitative"},"y":{"field":"y2","type":"quantitative"},"angle":{"field":"ang","type":"quantitative","scale":null}}},
  {"data":{"name":"notes"},"transform":[{"filter":"datum.kind == 'sans'"}],"mark":{"type":"text","align":"left","baseline":"alphabetic","font":"Liberation Sans","fontSize":25.5,"lineBreak":"\n","lineHeight":31.5,"color":"#151515"},"encoding":{"text":{"field":"text"}}},
  {"data":{"name":"notes"},"transform":[{"filter":"datum.kind == 'mono'"}],"mark":{"type":"text","align":"left","baseline":"alphabetic","font":"Liberation Mono","fontSize":18.5,"color":"#8c8c8c"},"encoding":{"text":{"field":"text"}}},
  {"data":{"name":"notes"},"transform":[{"filter":"datum.kind == 'monor'"}],"mark":{"type":"text","align":"right","baseline":"alphabetic","font":"Liberation Mono","fontSize":18.5,"lineBreak":"\n","lineHeight":25,"color":"#8c8c8c"},"encoding":{"text":{"field":"text"}}},
  {"data":{"name":"notes"},"transform":[{"filter":"datum.kind == 'z'"}],"mark":{"type":"text","align":"left","baseline":"alphabetic","font":"Liberation Sans","fontSize":19,"fontWeight":"bold","color":"#151515"},"encoding":{"text":{"field":"text"}}}
 ]
}
],
"resolve": {"scale": {"x": "independent", "y": "independent", "color": "independent"}, "axis": {"x": "independent", "y": "independent"}, "legend": {"color": "independent"}}
}
